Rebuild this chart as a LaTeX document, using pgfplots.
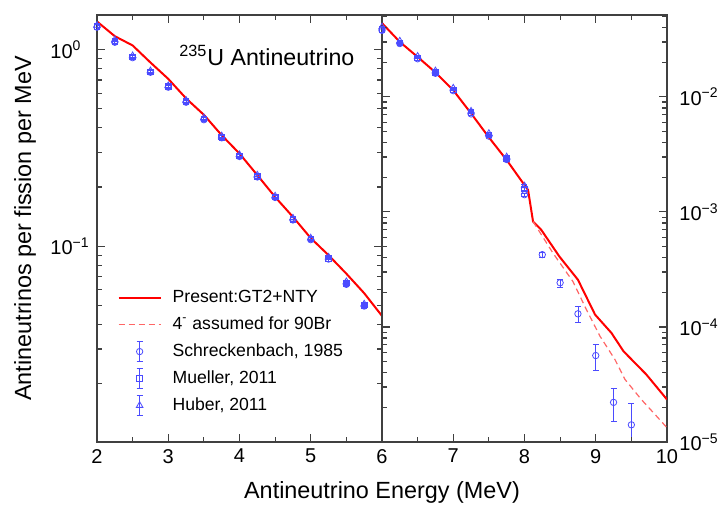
\documentclass[border=0pt]{standalone}
\usepackage{fontspec}
\setmainfont{Liberation Sans}
\usepackage{pgfplots}
\pgfplotsset{compat=1.18}
\usetikzlibrary{calc}
\definecolor{dblue}{RGB}{75,75,255}
\pgfplotsset{
  every axis plot/.append style={
    error bars/error bar style={dblue, thin},
    error bars/error mark options={rotate=90, mark size=1.5pt, dblue, thin},
  },
  lnleg/.style={legend image code/.code={\draw[##1] (0pt,0pt) -- (21pt,0pt);}},
  ebleg/.style={legend image code/.code={
    \draw[dblue, thin] (10.5pt,-5pt) -- (10.5pt,5pt) (9pt,5pt) -- (12pt,5pt) (9pt,-5pt) -- (12pt,-5pt);
    \draw[##1] plot coordinates {(10.5pt,0pt)};}},
}

\begin{document}
\begin{tikzpicture}[lab/.style={inner sep=0pt, font=\fontsize{10}{12}\selectfont},
  tk/.style={black!75, line width=0.6pt}]

% left panel: 2-6 MeV
\begin{semilogyaxis}[at={(0,0)}, anchor=south west,
  scale only axis, width=142.5pt, height=213.5pt,
  axis line style={black!75, line width=0.6pt},
  major tick length=4pt, minor tick length=2.5pt,
  xtick style={black!75, line width=0.6pt}, ytick style={black!75, line width=0.6pt},
  /pgf/number format/assume math mode=true,
  ticklabel style={font=\fontsize{10}{12}\selectfont},
  xmin=2, xmax=6, ymin=0.0101, ymax=1.5,
  xtick={2,3,4,5,6}, xticklabels={2,3,4,5,{}}, minor x tick num=1,
  ytick={0.1,1}, yticklabels={},
  minor ytick={0.02,0.03,0.04,0.05,0.06,0.07,0.08,0.09,0.2,0.3,0.4,0.5,0.6,0.7,0.8,0.9},
  legend style={at={(axis description cs:0.05,0.375)}, anchor=north west, draw=none, fill=none,
    font=\fontsize{8.8}{10.6}\selectfont, row sep=1.6pt, column sep=3.5pt, cells={anchor=west}},
]
\addplot[red, line width=1pt, lnleg] coordinates {
  (2.0,1.39) (2.25,1.17) (2.5,1.05) (2.75,0.86) (3.0,0.71) (3.25,0.565) (3.5,0.466)
  (3.75,0.367) (4.0,0.296) (4.25,0.230) (4.5,0.178) (4.75,0.141) (5.0,0.110)
  (5.25,0.090) (5.5,0.0725) (5.75,0.0577) (6.0,0.0442)};
\addlegendentry{Present:GT2+NTY}
\addlegendimage{red!60, line width=0.6pt, dash pattern=on 3pt off 2pt, lnleg}
\addlegendentry{4\textsuperscript{-} assumed for 90Br}
\addplot[only marks, dblue, mark=o, mark size=1.6pt, mark options={solid, thin}, ebleg,
  error bars/.cd, y dir=both, y explicit relative] coordinates {
  (2.0,1.30) +- (0,0.025) (2.25,1.09) +- (0,0.025) (2.5,0.91) +- (0,0.025)
  (2.75,0.767) +- (0,0.025) (3.0,0.644) +- (0,0.025) (3.25,0.54) +- (0,0.025)
  (3.5,0.44) +- (0,0.025) (3.75,0.356) +- (0,0.025) (4.0,0.286) +- (0,0.025)
  (4.25,0.225) +- (0,0.025) (4.5,0.177) +- (0,0.025) (4.75,0.136) +- (0,0.025)
  (5.0,0.108) +- (0,0.025) (5.25,0.086) +- (0,0.025) (5.5,0.064) +- (0,0.025)
  (5.75,0.0496) +- (0,0.025)};
\addlegendentry{Schreckenbach, 1985}
\addplot[only marks, dblue, mark=square, mark size=1.4pt, mark options={solid, thin}, ebleg,
  error bars/.cd, y dir=both, y explicit relative] coordinates {
  (2.0,1.31) +- (0,0.02) (2.25,1.10) +- (0,0.02) (2.5,0.92) +- (0,0.02)
  (2.75,0.772) +- (0,0.02) (3.0,0.648) +- (0,0.02) (3.25,0.545) +- (0,0.02)
  (3.5,0.444) +- (0,0.02) (3.75,0.359) +- (0,0.02) (4.0,0.288) +- (0,0.02)
  (4.25,0.227) +- (0,0.02) (4.5,0.178) +- (0,0.02) (4.75,0.137) +- (0,0.02)
  (5.0,0.109) +- (0,0.02) (5.25,0.087) +- (0,0.02) (5.5,0.065) +- (0,0.02)
  (5.75,0.0502) +- (0,0.02)};
\addlegendentry{Mueller, 2011}
\addplot[only marks, dblue, mark=triangle, mark size=1.9pt, mark options={solid, thin}, ebleg,
  error bars/.cd, y dir=both, y explicit relative] coordinates {
  (2.0,1.33) +- (0,0.02) (2.25,1.12) +- (0,0.02) (2.5,0.93) +- (0,0.02)
  (2.75,0.78) +- (0,0.02) (3.0,0.655) +- (0,0.02) (3.25,0.552) +- (0,0.02)
  (3.5,0.45) +- (0,0.02) (3.75,0.364) +- (0,0.02) (4.0,0.292) +- (0,0.02)
  (4.25,0.230) +- (0,0.02) (4.5,0.180) +- (0,0.02) (4.75,0.139) +- (0,0.02)
  (5.0,0.110) +- (0,0.02) (5.25,0.088) +- (0,0.02) (5.5,0.066) +- (0,0.02)
  (5.75,0.0508) +- (0,0.02)};
\addlegendentry{Huber, 2011}
\node[font=\fontsize{11.6}{14}\selectfont] at (rel axis cs:0.596,0.906) {\textsuperscript{235}U Antineutrino};
% inward ticks on all four sides (end points in axis units: 4pt major, 2.5pt minor)
\pgfplotsinvokeforeach{2,3,4,5,6}{
  \draw[tk] (axis cs:#1,0.0101) -- (axis cs:#1,0.01109);
  \draw[tk] (axis cs:#1,1.5) -- (axis cs:#1,1.366);}
\pgfplotsinvokeforeach{2.5,3.5,4.5,5.5}{
  \draw[tk] (axis cs:#1,0.0101) -- (axis cs:#1,0.01071);
  \draw[tk] (axis cs:#1,1.5) -- (axis cs:#1,1.415);}
\pgfplotsinvokeforeach{0.1,1}{
  \draw[tk] (axis cs:2,#1) -- (axis cs:2.1123,#1);
  \draw[tk] (axis cs:6,#1) -- (axis cs:5.8877,#1);}
\pgfplotsinvokeforeach{0.02,0.03,0.04,0.05,0.06,0.07,0.08,0.09,0.2,0.3,0.4,0.5,0.6,0.7,0.8,0.9}{
  \draw[tk] (axis cs:2,#1) -- (axis cs:2.0702,#1);
  \draw[tk] (axis cs:6,#1) -- (axis cs:5.9298,#1);}
\coordinate (L1) at (axis cs:2,1);
\coordinate (L2) at (axis cs:2,0.1);
\end{semilogyaxis}

% right panel: 6-10 MeV
\begin{semilogyaxis}[at={(142.5pt,0)}, anchor=south west,
  scale only axis, width=142.5pt, height=213.5pt,
  axis line style={black!75, line width=0.6pt},
  major tick length=4pt, minor tick length=2.5pt,
  xtick style={black!75, line width=0.6pt}, ytick style={black!75, line width=0.6pt},
  /pgf/number format/assume math mode=true,
  ticklabel style={font=\fontsize{10}{12}\selectfont},
  xmin=6, xmax=10, ymin=1e-5, ymax=0.0514,
  xtick={6,7,8,9,10}, minor x tick num=1,
  ytick={1e-5,1e-4,1e-3,1e-2}, yticklabels={},
  minor ytick={2e-5,3e-5,4e-5,5e-5,6e-5,7e-5,8e-5,9e-5,2e-4,3e-4,4e-4,5e-4,6e-4,7e-4,8e-4,9e-4,
    2e-3,3e-3,4e-3,5e-3,6e-3,7e-3,8e-3,9e-3,2e-2,3e-2,4e-2,5e-2},
]
\addplot[red, line width=1pt] coordinates {
  (6.0,0.0437) (6.25,0.0300) (6.5,0.0222) (6.75,0.0163) (7.0,0.0114) (7.25,0.00718)
  (7.5,0.00444) (7.75,0.00282) (8.0,0.00171) (8.05,0.00155) (8.12,0.000824)
  (8.235,0.000698) (8.49,0.000409) (8.75,0.000257) (8.99,0.000128) (9.22,0.0000887)
  (9.39,0.0000614) (9.71,0.0000386) (10.0,0.0000234)};
\addplot[red!60, line width=0.6pt, dash pattern=on 3pt off 2pt] coordinates {
  (8.12,0.000824) (8.40,0.000438) (8.68,0.000248) (8.87,0.000141) (9.06,0.000083)
  (9.27,0.000052) (9.41,0.000035) (9.64,0.0000234) (9.83,0.0000174) (10.0,0.0000133)};
\addplot[only marks, dblue, mark=o, mark size=1.6pt, mark options={solid, thin},
  error bars/.cd, y dir=both, y explicit relative] coordinates {
  (6.0,0.0378) +- (0,0.025) (6.25,0.0290) +- (0,0.025) (6.5,0.0214) +- (0,0.025)
  (6.75,0.0160) +- (0,0.025) (7.0,0.0113) +- (0,0.025) (7.25,0.0071) +- (0,0.025)
  (7.5,0.00455) +- (0,0.025) (7.75,0.00285) +- (0,0.025) (8.0,0.00141) +- (0,0.03)
  (8.25,0.000425) +- (0,0.05) (8.5,0.000242) +- (0,0.08) (8.75,0.000130) +- (0,0.15)
  (9.0,0.0000564) +- (0,0.26) (9.25,0.0000221) +- (0,0.31) (9.5,0.0000141) +- (0,0.55)};
\addplot[only marks, dblue, mark=square, mark size=1.4pt, mark options={solid, thin},
  error bars/.cd, y dir=both, y explicit relative] coordinates {
  (6.0,0.0385) +- (0,0.02) (6.25,0.0295) +- (0,0.02) (6.5,0.0218) +- (0,0.02)
  (6.75,0.0163) +- (0,0.02) (7.0,0.0115) +- (0,0.02) (7.25,0.0073) +- (0,0.02)
  (7.5,0.00465) +- (0,0.02) (7.75,0.00292) +- (0,0.02) (8.0,0.00158) +- (0,0.03)};
\addplot[only marks, dblue, mark=triangle, mark size=1.9pt, mark options={solid, thin},
  error bars/.cd, y dir=both, y explicit relative] coordinates {
  (6.0,0.0404) +- (0,0.02) (6.25,0.0305) +- (0,0.02) (6.5,0.0225) +- (0,0.02)
  (6.75,0.0168) +- (0,0.02) (7.0,0.0119) +- (0,0.02) (7.25,0.0075) +- (0,0.02)
  (7.5,0.0048) +- (0,0.02) (7.75,0.0030) +- (0,0.02) (8.0,0.00168) +- (0,0.03)};
\pgfplotsinvokeforeach{6,7,8,9,10}{
  \draw[tk] (axis cs:#1,1e-5) -- (axis cs:#1,1.1734e-5);
  \draw[tk] (axis cs:#1,0.0514) -- (axis cs:#1,0.0438);}
\pgfplotsinvokeforeach{6.5,7.5,8.5,9.5}{
  \draw[tk] (axis cs:#1,1e-5) -- (axis cs:#1,1.1052e-5);
  \draw[tk] (axis cs:#1,0.0514) -- (axis cs:#1,0.04651);}
\pgfplotsinvokeforeach{1e-5,1e-4,1e-3,1e-2}{
  \draw[tk] (axis cs:6,#1) -- (axis cs:6.1123,#1);
  \draw[tk] (axis cs:10,#1) -- (axis cs:9.8877,#1);}
\pgfplotsinvokeforeach{2e-5,3e-5,4e-5,5e-5,6e-5,7e-5,8e-5,9e-5,2e-4,3e-4,4e-4,5e-4,6e-4,7e-4,8e-4,9e-4,
    2e-3,3e-3,4e-3,5e-3,6e-3,7e-3,8e-3,9e-3,2e-2,3e-2,4e-2,5e-2}{
  \draw[tk] (axis cs:6,#1) -- (axis cs:6.0702,#1);
  \draw[tk] (axis cs:10,#1) -- (axis cs:9.9298,#1);}
\coordinate (R2) at (axis cs:10,1e-2);
\coordinate (R3) at (axis cs:10,1e-3);
\coordinate (R4) at (axis cs:10,1e-4);
\coordinate (R5) at (axis cs:10,1e-5);
\end{semilogyaxis}

\node[lab, anchor=west] at ($(L1)+(-23.5pt,0)$) {10\textsuperscript{0}};
\node[lab, anchor=west] at ($(L2)+(-23.5pt,0)$) {10\textsuperscript{−1}};
\node[lab, anchor=west] at ($(R2)+(6pt,0)$) {10\textsuperscript{−2}};
\node[lab, anchor=west] at ($(R3)+(6pt,0)$) {10\textsuperscript{−3}};
\node[lab, anchor=west] at ($(R4)+(6pt,0)$) {10\textsuperscript{−4}};
\node[lab, anchor=west] at ($(R5)+(6pt,0)$) {10\textsuperscript{−5}};
\node[rotate=90, font=\fontsize{11.7}{14}\selectfont] at (-36pt,106.75pt) {Antineutrinos per fission per MeV};
\node[font=\fontsize{11.7}{14}\selectfont] at (142.5pt,-25pt) {Antineutrino Energy (MeV)};
\pgfresetboundingbox
\path (-48.5pt,-32pt) rectangle (311pt,221pt);
\end{tikzpicture}
\end{document}
